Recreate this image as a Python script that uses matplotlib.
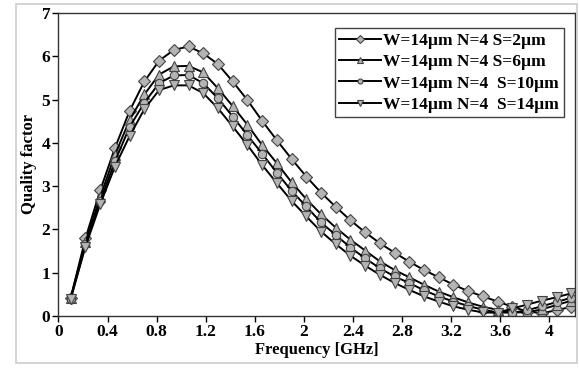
import matplotlib.pyplot as plt
import matplotlib.patches as patches
import numpy as np

freq = [0.10, 0.22, 0.34, 0.46, 0.58, 0.70, 0.82, 0.94, 1.06, 1.18,
        1.30, 1.42, 1.54, 1.66, 1.78, 1.90, 2.02, 2.14, 2.26, 2.38,
        2.50, 2.62, 2.74, 2.86, 2.98, 3.10, 3.22, 3.34, 3.46, 3.58,
        3.70, 3.82, 3.94, 4.06, 4.18]

q_s2 = [0.42, 1.79, 2.90, 3.88, 4.74, 5.42, 5.90, 6.15, 6.23, 6.07,
        5.82, 5.42, 4.99, 4.51, 4.06, 3.63, 3.22, 2.85, 2.52, 2.21,
        1.93, 1.68, 1.46, 1.25, 1.06, 0.89, 0.72, 0.57, 0.45, 0.33,
        0.21, 0.10, 0.06, 0.13, 0.21]

q_s6 = [0.42, 1.70, 2.75, 3.72, 4.53, 5.12, 5.58, 5.77, 5.78, 5.63,
        5.26, 4.85, 4.42, 3.95, 3.53, 3.09, 2.70, 2.35, 2.04, 1.76,
        1.51, 1.26, 1.06, 0.89, 0.72, 0.56, 0.43, 0.31, 0.21, 0.14,
        0.08, 0.08, 0.15, 0.25, 0.35]

q_s10 = [0.40, 1.65, 2.65, 3.57, 4.37, 4.93, 5.38, 5.56, 5.57, 5.38,
         5.03, 4.61, 4.18, 3.75, 3.31, 2.89, 2.53, 2.16, 1.87, 1.58,
         1.33, 1.10, 0.91, 0.76, 0.59, 0.45, 0.33, 0.23, 0.14, 0.08,
         0.07, 0.13, 0.22, 0.32, 0.42]

q_s14 = [0.40, 1.60, 2.58, 3.45, 4.16, 4.78, 5.22, 5.33, 5.33, 5.15,
         4.80, 4.38, 3.95, 3.49, 3.07, 2.66, 2.30, 1.95, 1.66, 1.39,
         1.16, 0.95, 0.76, 0.60, 0.45, 0.33, 0.22, 0.14, 0.08, 0.07,
         0.17, 0.26, 0.35, 0.43, 0.52]

labels = ['W=14\u00b5m N=4 S=2\u00b5m',
          'W=14\u00b5m N=4 S=6\u00b5m',
          'W=14\u00b5m N=4  S=10\u00b5m',
          'W=14\u00b5m N=4  S=14\u00b5m']

xticks = [0, 0.4, 0.8, 1.2, 1.6, 2, 2.4, 2.8, 3.2, 3.6, 4]
xtick_labels = ['0', '0.4', '0.8', '1.2', '1.6', '2', '2.4', '2.8', '3.2', '3.6', '4']

plt.rcParams['font.family'] = ['Liberation Serif', 'DejaVu Serif']
plt.rcParams['font.weight'] = 'bold'

fig = plt.figure(figsize=(5.79, 3.76), dpi=100)
ax = fig.add_axes([0.101, 0.160, 0.892, 0.805])

# light outer frame around the picture
fig.patches.append(patches.Rectangle((0.027, 0.035), 0.97, 0.955, transform=fig.transFigure,
                                     fill=False, edgecolor='#cccccc', linewidth=1.2))

series = [q_s2, q_s6, q_s10, q_s14]
markers = ['D', '^', 'o', 'v']
sizes = [6.5, 7, 6, 7.5]
for q, m, ms, lab in zip(series, markers, sizes, labels):
    ax.plot(freq, q, color='black', linewidth=1.4, marker=m, markersize=ms,
            markerfacecolor='#b4b4b4', markeredgecolor='#444444', markeredgewidth=0.8,
            label=lab)

ax.set_xlim(0, 4.21)
ax.set_ylim(0, 7)
ax.set_xticks(xticks)
ax.set_xticklabels(xtick_labels)
ax.set_yticks(range(0, 8))
ax.tick_params(direction='out', length=4, width=1, labelsize=12.5, pad=2)
for lbl in ax.get_xticklabels() + ax.get_yticklabels():
    lbl.set_fontweight('bold')
for sp in ax.spines.values():
    sp.set_linewidth(1.0)
    sp.set_color('#333333')

ax.set_xlabel('Frequency [GHz]', fontsize=12, fontweight='bold', labelpad=1)
ax.set_ylabel('Quality factor', fontsize=12, fontweight='bold', labelpad=3)

leg = ax.legend(loc='upper right', bbox_to_anchor=(0.978, 0.95), fontsize=12.5,
                markerscale=0.6, handlelength=2.4, handletextpad=0.15,
                borderpad=0.25, labelspacing=0.3, borderaxespad=0,
                fancybox=False, framealpha=1, edgecolor='#444444')
leg.get_frame().set_linewidth(1.0)
for t in leg.get_texts():
    t.set_fontweight('bold')

fig.savefig('out.png', dpi=100)
